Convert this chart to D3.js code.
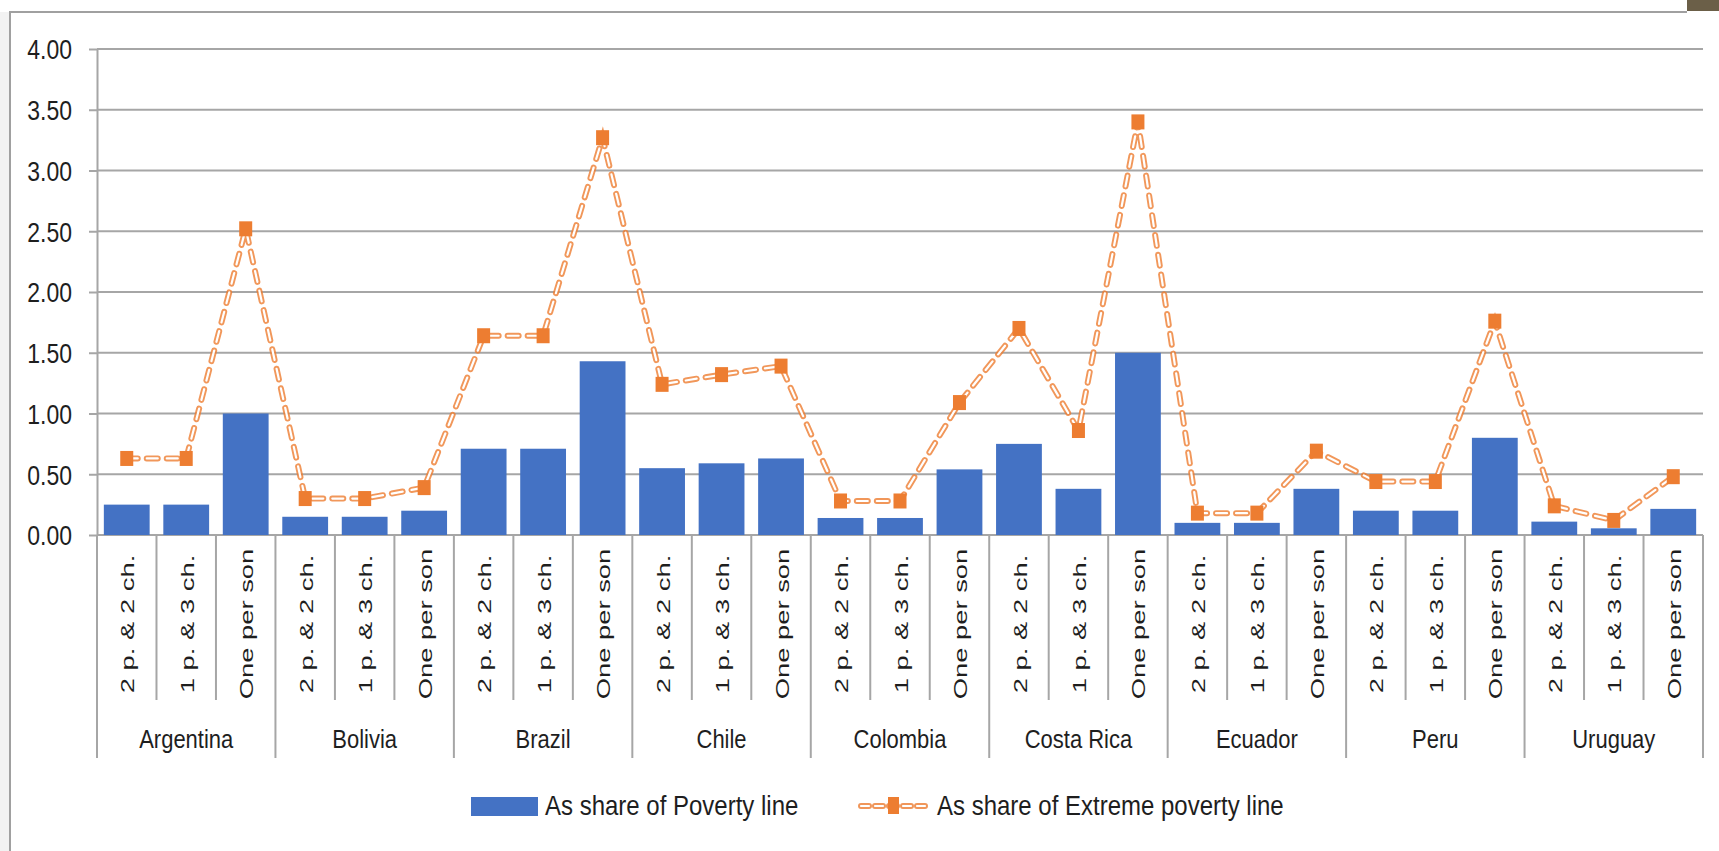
<!DOCTYPE html>
<html>
<head>
<meta charset="utf-8">
<script src="https://cdn.jsdelivr.net/npm/d3@7"></script>
<style>
  html, body { margin: 0; padding: 0; background: #fff; }
  svg { display: block; font-family: "Liberation Sans", Arial, sans-serif; }
</style>
</head>
<body>
<div class="canvas"></div>
<script>
const dims = { width: 1719, height: 851 };

// data
const countries = ['Argentina', 'Bolivia', 'Brazil', 'Chile', 'Colombia', 'Costa Rica', 'Ecuador', 'Peru', 'Uruguay'];
const households = ['2 p. & 2 ch.', '1 p. & 3 ch.', 'One per son'];
const povertyShare = [
  0.25, 0.25, 1.00,
  0.15, 0.15, 0.20,
  0.71, 0.71, 1.43,
  0.55, 0.59, 0.63,
  0.14, 0.14, 0.54,
  0.75, 0.38, 1.50,
  0.10, 0.10, 0.38,
  0.20, 0.20, 0.80,
  0.11, 0.055, 0.215
];
const extremeShare = [
  0.63, 0.63, 2.52,
  0.30, 0.30, 0.39,
  1.64, 1.64, 3.27,
  1.24, 1.32, 1.39,
  0.28, 0.28, 1.09,
  1.70, 0.86, 3.40,
  0.18, 0.18, 0.69,
  0.44, 0.44, 1.76,
  0.24, 0.12, 0.48
];
const yTicks = [0, 0.5, 1, 1.5, 2, 2.5, 3, 3.5, 4];
const legendLabels = ['As share of Poverty line', 'As share of Extreme poverty line'];

const rows = [];
countries.forEach((c, i) => {
  households.forEach((h, j) => {
    const k = i * households.length + j;
    rows.push({ id: k, country: c, household: h, poverty: povertyShare[k], extreme: extremeShare[k] });
  });
});

const blue = '#4472c4';
const orange = '#ed7d31';
const grid = '#a6a6a6';
const ink = '#1e1e1e';

const plot = { left: 97, right: 1703, top: 49, bottom: 535 };

const svg = d3.select('.canvas').append('svg')
  .attr('width', dims.width)
  .attr('height', dims.height);

// frame + bits around it
svg.append('rect').attr('x', 0).attr('y', 12).attr('width', 9).attr('height', dims.height - 12).attr('fill', '#f2f2f2');
svg.append('rect').attr('x', 1687).attr('y', 0).attr('width', 32).attr('height', 11).attr('fill', '#6b5f48');
svg.append('path')
  .attr('d', `M10,${dims.height} V12 H1687`)
  .attr('fill', 'none')
  .attr('stroke', '#a0a0a0')
  .attr('stroke-width', 2);

// scales
const x = d3.scaleBand()
  .domain(rows.map(d => d.id))
  .range([plot.left, plot.right])
  .paddingInner(0.23)
  .paddingOuter(0.115);

const y = d3.scaleLinear()
  .domain([0, 4])
  .range([plot.bottom, plot.top]);

const step = x.step();
const edge = i => plot.left + i * step; // category boundaries

// gridlines
svg.append('g').selectAll('line')
  .data(yTicks)
  .enter().append('line')
    .attr('x1', plot.left).attr('x2', plot.right)
    .attr('y1', d => y(d)).attr('y2', d => y(d))
    .attr('stroke', grid)
    .attr('stroke-width', 2);

// y axis
const yAxis = d3.axisLeft(y)
  .tickValues(yTicks)
  .tickFormat(d3.format('.2f'))
  .tickSizeInner(8)
  .tickSizeOuter(0)
  .tickPadding(17);

const yg = svg.append('g')
  .attr('transform', `translate(${plot.left},0)`)
  .call(yAxis);
yg.select('.domain').attr('stroke', grid).attr('stroke-width', 2);
yg.selectAll('.tick line').attr('stroke', grid).attr('stroke-width', 2);
yg.selectAll('.tick text')
  .attr('x', null).attr('dy', '0.36em')
  .attr('transform', 'translate(-25,0) scale(1,1.2)')
  .attr('fill', ink)
  .style('font-size', '23px');

// bars
svg.append('g').selectAll('rect')
  .data(rows)
  .enter().append('rect')
    .attr('x', d => x(d.id))
    .attr('y', d => y(d.poverty))
    .attr('width', x.bandwidth())
    .attr('height', d => y(0) - y(d.poverty))
    .attr('fill', blue);

// category separators below axis
const sep = svg.append('g');
d3.range(rows.length + 1).forEach(i => {
  const major = i % households.length === 0;
  sep.append('line')
    .attr('x1', edge(i)).attr('x2', edge(i))
    .attr('y1', plot.bottom).attr('y2', major ? 758 : 700)
    .attr('stroke', grid)
    .attr('stroke-width', 2);
});

// household labels (rotated)
svg.append('g').selectAll('text')
  .data(rows)
  .enter().append('text')
    .attr('transform', d => `translate(${x(d.id) + x.bandwidth() / 2 + 2},624) scale(1,1.48) rotate(-90)`)
    .attr('text-anchor', 'middle')
    .attr('dy', '0.3em')
    .attr('fill', ink)
    .style('font-size', '18.5px')
    .text(d => d.household);

// country labels
svg.append('g').selectAll('text')
  .data(countries)
  .enter().append('text')
    .attr('transform', (d, i) => `translate(${(edge(i * 3) + edge(i * 3 + 3)) / 2},748) scale(1,1.2)`)
    .attr('text-anchor', 'middle')
    .attr('fill', ink)
    .style('font-size', '22px')
    .text(d => d);

// extreme poverty line: orange outlined dashes
const line = d3.line()
  .x(d => x(d.id) + x.bandwidth() / 2)
  .y(d => y(d.extreme));

const lineG = svg.append('g');
lineG.append('path')
  .attr('d', line(rows))
  .attr('fill', 'none')
  .attr('stroke', orange)
  .attr('stroke-width', 6)
  .attr('stroke-linecap', 'round')
  .attr('stroke-dasharray', '11 9')
  .attr('opacity', 0.8);
lineG.append('path')
  .attr('d', line(rows))
  .attr('fill', 'none')
  .attr('stroke', '#fff')
  .attr('stroke-width', 2.2)
  .attr('stroke-linecap', 'round')
  .attr('stroke-dasharray', '11 9');

// markers
lineG.selectAll('rect')
  .data(rows)
  .enter().append('rect')
    .attr('x', d => x(d.id) + x.bandwidth() / 2 - 6.5)
    .attr('y', d => y(d.extreme) - 7.5)
    .attr('width', 13)
    .attr('height', 15)
    .attr('fill', orange);

// legend
const legend = svg.append('g');
legend.append('rect')
  .attr('x', 471).attr('y', 797)
  .attr('width', 67).attr('height', 19)
  .attr('fill', blue);
legend.append('text')
  .attr('transform', 'translate(545,815) scale(1,1.12)')
  .attr('fill', ink)
  .style('font-size', '24px')
  .text(legendLabels[0]);

legend.append('path')
  .attr('d', 'M861,806 H926')
  .attr('stroke', orange)
  .attr('stroke-width', 6)
  .attr('stroke-linecap', 'round')
  .attr('stroke-dasharray', '8 6')
  .attr('opacity', 0.8);
legend.append('path')
  .attr('d', 'M861,806 H926')
  .attr('stroke', '#fff')
  .attr('stroke-width', 2.2)
  .attr('stroke-linecap', 'round')
  .attr('stroke-dasharray', '8 6');
legend.append('rect')
  .attr('x', 888).attr('y', 797)
  .attr('width', 11).attr('height', 17)
  .attr('fill', orange);
legend.append('text')
  .attr('transform', 'translate(937,815) scale(1,1.12)')
  .attr('fill', ink)
  .style('font-size', '24px')
  .text(legendLabels[1]);
</script>
</body>
</html>
